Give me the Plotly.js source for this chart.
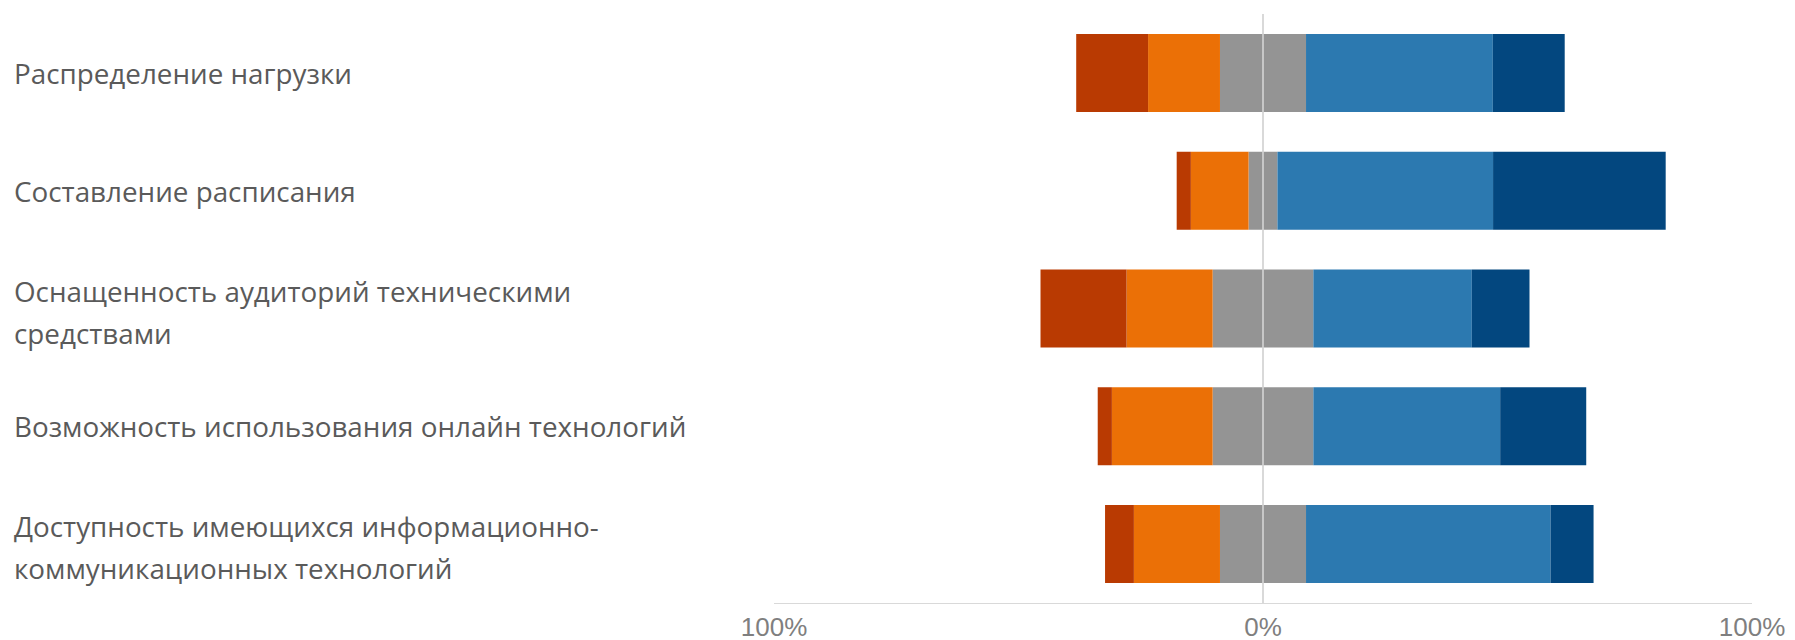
<!DOCTYPE html>
<html>
<head>
<meta charset="utf-8">
<script src="https://cdn.plot.ly/plotly-3.0.1.min.js"></script>
<style>html,body{margin:0;padding:0;background:#fff;}#chart{width:1795px;height:640px;}</style>
</head>
<body>
<div id="chart"></div>
<script>
// Categories (line breaks as in the original labels)
const categories = [
  "Распределение нагрузки",
  "Составление расписания",
  "Оснащенность аудиторий техническими\nсредствами",
  "Возможность использования онлайн технологий",
  "Доступность имеющихся информационно-\nкоммуникационных технологий"
];
// Shares of answers, %
const veryNegative = [14.7, 2.9, 17.6, 2.9, 5.9];
const negative     = [14.7, 11.8, 17.6, 20.6, 17.6];
const neutral      = [17.6, 5.9, 20.6, 20.6, 17.6];
const positive     = [38.2, 44.1, 32.4, 38.2, 50.0];
const veryPositive = [14.7, 35.3, 11.8, 17.6, 8.8];
// Axis ticks
const tickValues = [-100, 0, 100];
const tickLabels = ["100%", "0%", "100%"];

const colors = {
  veryNegative: "#B93A02",
  negative: "#EB7006",
  neutral: "#949494",
  positive: "#2C79B0",
  veryPositive: "#03477F"
};

const ids = categories.map((c, i) => "c" + i);
function bar(x, color) {
  return {
    type: "bar", orientation: "h", y: ids, x: x,
    marker: { color: color, line: { width: 0 } },
    hoverinfo: "skip", showlegend: false
  };
}
const data = [
  bar(neutral.map(v => -v / 2), colors.neutral),
  bar(neutral.map(v => v / 2), colors.neutral),
  bar(negative.map(v => -v), colors.negative),
  bar(positive, colors.positive),
  bar(veryNegative.map(v => -v), colors.veryNegative),
  bar(veryPositive, colors.veryPositive)
];

const annotations = [];
categories.forEach((c, i) => {
  const lines = c.split("\n");
  const spacing = 42;
  lines.forEach((ln, j) => {
    const offset = (j - (lines.length - 1) / 2) * spacing;
    annotations.push({
      xref: "paper", yref: "y", x: -0.7795, y: ids[i],
      xanchor: "left", yanchor: "middle", showarrow: false,
      yshift: -offset + (lines.length > 1 ? -3 : 0),
      text: ln,
      font: { family: "Open Sans, sans-serif", size: 27.8, color: "#5a5a5a" }
    });
  });
});

const layout = {
  width: 1795, height: 640,
  margin: { l: 774, r: 43, t: 14, b: 37, pad: 0 },
  paper_bgcolor: "#ffffff", plot_bgcolor: "#ffffff",
  barmode: "relative", bargap: 0.338,
  xaxis: {
    range: [-100, 100], tickvals: tickValues, ticktext: tickLabels,
    showgrid: true, gridcolor: "#d9d9d9", gridwidth: 1.3,
    zeroline: false, showline: true, linecolor: "#d9d9d9", linewidth: 1.3,
    ticks: "", ticklabelstandoff: 0,
    tickfont: { family: "Liberation Sans, Arial, sans-serif", size: 26, color: "#7f7f7f" },
    fixedrange: true
  },
  yaxis: {
    autorange: "reversed", showticklabels: false, showgrid: false,
    zeroline: false, showline: false, ticks: "", fixedrange: true
  },
  shapes: [{
    type: "line", xref: "x", yref: "paper", x0: 0, x1: 0, y0: 0, y1: 1,
    layer: "above", line: { color: "#d9d9d9", width: 1.5 }
  }],
  annotations: annotations
};

Plotly.newPlot("chart", data, layout, { displayModeBar: false, staticPlot: true });
</script>
</body>
</html>
